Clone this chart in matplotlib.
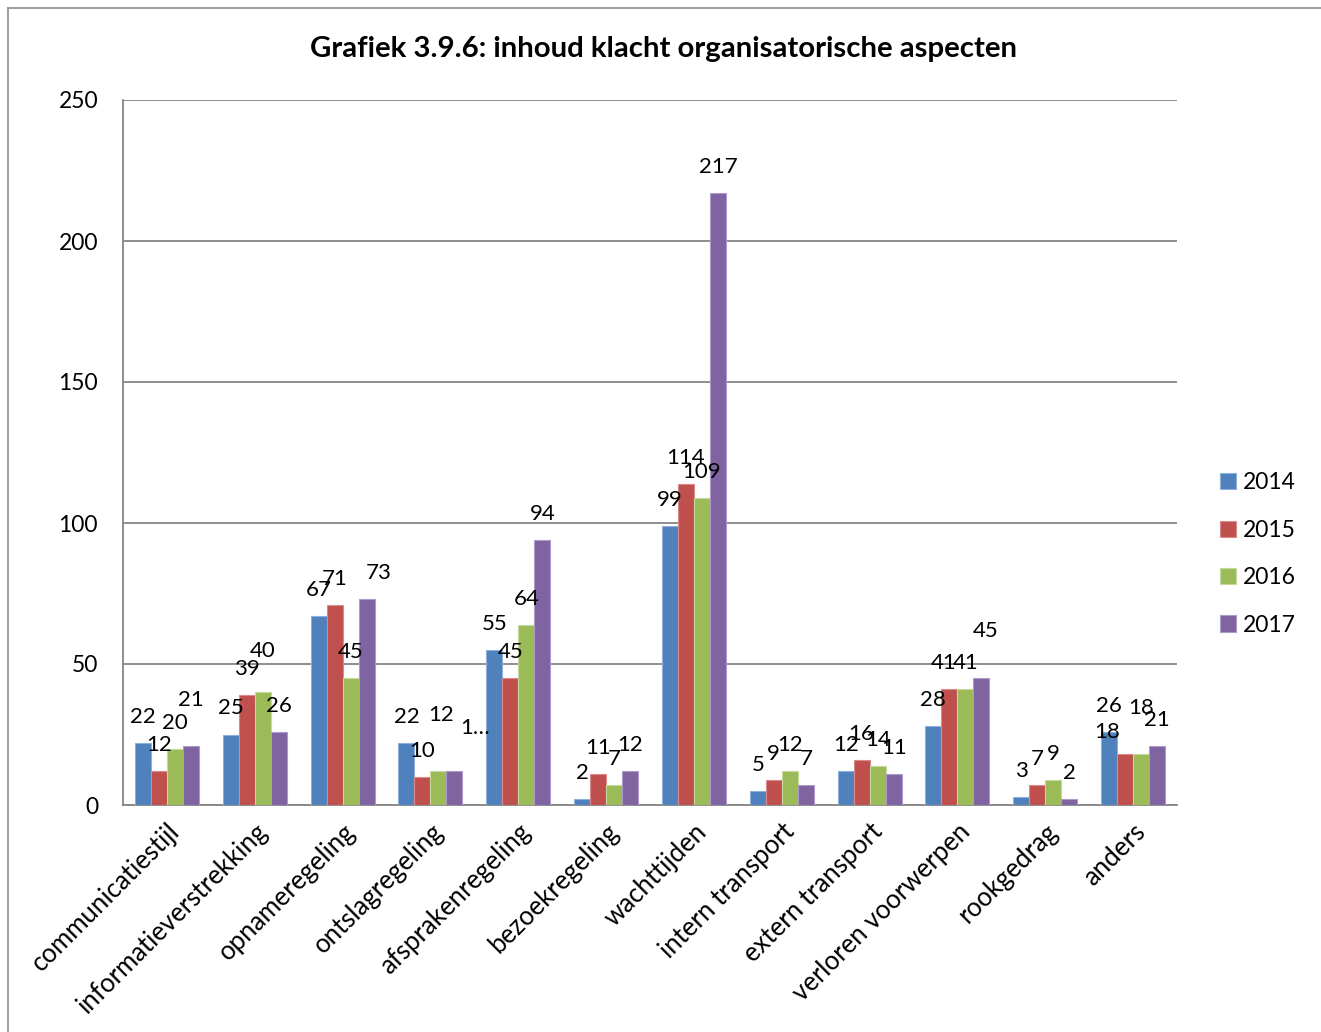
import matplotlib
matplotlib.use("Agg")
import matplotlib.pyplot as plt
import numpy as np
from matplotlib.lines import Line2D

plt.rcParams['font.family'] = ['Lato', 'DejaVu Sans']

categories = ["communicatiestijl", "informatieverstrekking", "opnameregeling",
              "ontslagregeling", "afsprakenregeling", "bezoekregeling",
              "wachttijden", "intern transport", "extern transport",
              "verloren voorwerpen", "rookgedrag", "anders"]
years = ["2014", "2015", "2016", "2017"]
v2014 = [22, 25, 67, 22, 55, 2, 99, 5, 12, 28, 3, 26]
v2015 = [12, 39, 71, 10, 45, 11, 114, 9, 16, 41, 7, 18]
v2016 = [20, 40, 45, 12, 64, 7, 109, 12, 14, 41, 9, 18]
v2017 = [21, 26, 73, 12, 94, 12, 217, 7, 11, 45, 2, 21]
series = [v2014, v2015, v2016, v2017]
colors = ["#4F81BD", "#C0504D", "#9BBB59", "#8064A2"]
edges = ["#8FB0DA", "#DA8A88", "#C4DA9B", "#AE9AC8"]

# label tweaks (group, series) -> (dx px, extra dy px, text)
label_tweaks = {
    (0, 3): (0, 20, None),
    (1, 2): (0, 15, None),
    (2, 3): (12, 0, None),
    (3, 2): (3, 30, None),
    (3, 3): (21, 17, "1…"),
    (9, 1): (-6, 0, None),
    (9, 3): (4, 21, None),
    (11, 1): (-18, -4, None),
    (11, 2): (0, 20, None),
}

W, H, DPI = 1321, 1032, 100
fig = plt.figure(figsize=(W / DPI, H / DPI), dpi=DPI)
ax = fig.add_axes([123 / W, 1 - 805 / H, (1177 - 123) / W, (805 - 100) / H])

x = np.arange(len(categories))
bw = 16 / 87.83
px2pt = 72 / DPI
for j, vals in enumerate(series):
    pos = x + (j - 1.5) * bw
    ax.bar(pos, vals, width=bw, color=colors[j], edgecolor=edges[j],
           linewidth=0.8, label=years[j], zorder=3)
    for i, v in enumerate(vals):
        dx, dy, txt = label_tweaks.get((i, j), (0, 0, None))
        ax.annotate(txt if txt else str(v), (pos[i], v),
                    xytext=(dx * px2pt, (26 + dy) * px2pt),
                    textcoords="offset points", ha="center", va="center",
                    fontsize=16, color="black", zorder=4)

ax.set_xlim(-0.5, len(categories) - 0.5)
ax.set_ylim(0, 250)
ax.set_yticks([0, 50, 100, 150, 200, 250])
ax.yaxis.grid(True, color="#868686", linewidth=1.3, zorder=0)
ax.set_axisbelow(True)
for s in ["top", "right"]:
    ax.spines[s].set_visible(False)
for s in ["left", "bottom"]:
    ax.spines[s].set_color("#868686")
    ax.spines[s].set_linewidth(1.3)
ax.tick_params(axis="y", length=0, pad=18, labelsize=16.5)
ax.tick_params(axis="x", length=0, pad=10, labelsize=18.5)
ax.set_xticks(x)
ax.set_xticklabels(categories, rotation=45, ha="right", va="top",
                   rotation_mode="anchor")

fig.text(664 / W, 1 - 49 / H,
         "Grafiek 3.9.6: inhoud klacht organisatorische aspecten",
         ha="center", va="center", fontsize=21.2, fontweight="bold")

leg = ax.legend(loc="center left", bbox_to_anchor=(1199 / W, 1 - 554 / H),
                bbox_transform=fig.transFigure, frameon=False, fontsize=16.5,
                handlelength=0.7, handleheight=0.7, handletextpad=0.3,
                labelspacing=1.15)

# outer frame
fig.add_artist(Line2D([8 / W, 8 / W], [0, 1 - 8 / H], color="#8c8c8c",
                      linewidth=1.2, transform=fig.transFigure))
fig.add_artist(Line2D([8 / W, 1], [1 - 8 / H, 1 - 8 / H], color="#8c8c8c",
                      linewidth=1.2, transform=fig.transFigure))

fig.savefig("out.png", dpi=DPI, facecolor="white")
